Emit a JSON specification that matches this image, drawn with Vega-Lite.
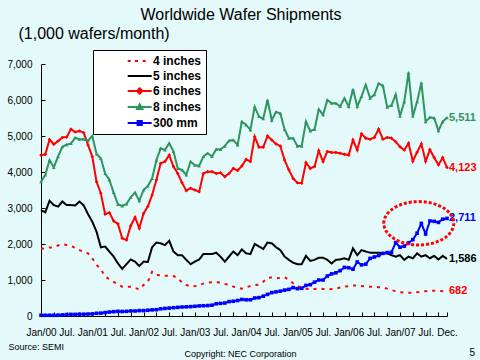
{
  "$schema": "https://vega.github.io/schema/vega-lite/v6.json",
  "width": 406,
  "height": 252,
  "autosize": {"type": "none"},
  "padding": {"left": 41, "top": 64, "right": 33, "bottom": 44},
  "background": "#e4f9f9",
  "config": {
    "view": {"stroke": null},
    "font": "Liberation Sans",
    "axis": {"domainColor": "black", "tickColor": "black", "labelColor": "black", "titleColor": "black", "grid": false, "domainWidth": 1, "tickWidth": 1}
  },
  "title": {"text": "Worldwide Wafer Shipments", "fontSize": 16, "fontWeight": "normal", "font": "Liberation Sans", "color": "black", "anchor": "middle", "frame": "group", "offset": 0, "dx": -3, "dy": -2},
  "data": {"values": [
    {"m":0,"4 inches":1870,"5 inches":2940,"6 inches":4470,"8 inches":3730,"300 mm":20},
    {"m":1,"4 inches":1880,"5 inches":2880,"6 inches":4490,"8 inches":3920,"300 mm":20},
    {"m":2,"4 inches":1900,"5 inches":3200,"6 inches":4900,"8 inches":4330,"300 mm":20},
    {"m":3,"4 inches":1910,"5 inches":3080,"6 inches":4770,"8 inches":4130,"300 mm":20},
    {"m":4,"4 inches":1960,"5 inches":3040,"6 inches":4860,"8 inches":4430,"300 mm":25},
    {"m":5,"4 inches":2000,"5 inches":3180,"6 inches":4960,"8 inches":4700,"300 mm":30},
    {"m":6,"4 inches":1970,"5 inches":3080,"6 inches":4970,"8 inches":4760,"300 mm":40},
    {"m":7,"4 inches":1950,"5 inches":3080,"6 inches":5190,"8 inches":4790,"300 mm":45},
    {"m":8,"4 inches":1890,"5 inches":3070,"6 inches":5110,"8 inches":4950,"300 mm":45},
    {"m":9,"4 inches":1830,"5 inches":3180,"6 inches":5140,"8 inches":4910,"300 mm":50},
    {"m":10,"4 inches":1780,"5 inches":3070,"6 inches":5090,"8 inches":4910,"300 mm":50},
    {"m":11,"4 inches":1740,"5 inches":2830,"6 inches":4750,"8 inches":4870,"300 mm":55},
    {"m":12,"4 inches":1600,"5 inches":2620,"6 inches":4430,"8 inches":5000,"300 mm":60},
    {"m":13,"4 inches":1420,"5 inches":2340,"6 inches":3730,"8 inches":4500,"300 mm":75},
    {"m":14,"4 inches":1300,"5 inches":1910,"6 inches":3410,"8 inches":4380,"300 mm":80},
    {"m":15,"4 inches":1100,"5 inches":1930,"6 inches":2830,"8 inches":3960,"300 mm":95},
    {"m":16,"4 inches":1020,"5 inches":1790,"6 inches":2870,"8 inches":3780,"300 mm":110},
    {"m":17,"4 inches":950,"5 inches":1650,"6 inches":2640,"8 inches":3430,"300 mm":120},
    {"m":18,"4 inches":880,"5 inches":1460,"6 inches":2560,"8 inches":3100,"300 mm":130},
    {"m":19,"4 inches":815,"5 inches":1310,"6 inches":2160,"8 inches":3060,"300 mm":125},
    {"m":20,"4 inches":810,"5 inches":1440,"6 inches":2110,"8 inches":3110,"300 mm":130},
    {"m":21,"4 inches":815,"5 inches":1570,"6 inches":2510,"8 inches":3300,"300 mm":140},
    {"m":22,"4 inches":780,"5 inches":1510,"6 inches":2740,"8 inches":3430,"300 mm":140},
    {"m":23,"4 inches":740,"5 inches":1390,"6 inches":2440,"8 inches":3200,"300 mm":150},
    {"m":24,"4 inches":860,"5 inches":1510,"6 inches":2850,"8 inches":3500,"300 mm":150},
    {"m":25,"4 inches":950,"5 inches":1500,"6 inches":3040,"8 inches":3610,"300 mm":160},
    {"m":26,"4 inches":1230,"5 inches":1910,"6 inches":3360,"8 inches":3820,"300 mm":170},
    {"m":27,"4 inches":1140,"5 inches":2040,"6 inches":3780,"8 inches":4330,"300 mm":175},
    {"m":28,"4 inches":1130,"5 inches":2020,"6 inches":4240,"8 inches":4660,"300 mm":200},
    {"m":29,"4 inches":1120,"5 inches":1970,"6 inches":4290,"8 inches":4610,"300 mm":210},
    {"m":30,"4 inches":1120,"5 inches":2090,"6 inches":4470,"8 inches":4800,"300 mm":220},
    {"m":31,"4 inches":1110,"5 inches":1790,"6 inches":4150,"8 inches":4570,"300 mm":230},
    {"m":32,"4 inches":1050,"5 inches":1690,"6 inches":3960,"8 inches":4100,"300 mm":240},
    {"m":33,"4 inches":930,"5 inches":1690,"6 inches":3700,"8 inches":4060,"300 mm":250},
    {"m":34,"4 inches":860,"5 inches":1560,"6 inches":3480,"8 inches":3920,"300 mm":255},
    {"m":35,"4 inches":815,"5 inches":1440,"6 inches":3550,"8 inches":4290,"300 mm":260},
    {"m":36,"4 inches":830,"5 inches":1510,"6 inches":3500,"8 inches":4190,"300 mm":270},
    {"m":37,"4 inches":860,"5 inches":1570,"6 inches":3450,"8 inches":4170,"300 mm":280},
    {"m":38,"4 inches":900,"5 inches":1720,"6 inches":3960,"8 inches":4430,"300 mm":285},
    {"m":39,"4 inches":930,"5 inches":1720,"6 inches":4010,"8 inches":4520,"300 mm":290},
    {"m":40,"4 inches":940,"5 inches":1720,"6 inches":4010,"8 inches":4430,"300 mm":300},
    {"m":41,"4 inches":950,"5 inches":1760,"6 inches":3960,"8 inches":4630,"300 mm":340},
    {"m":42,"4 inches":920,"5 inches":1650,"6 inches":3980,"8 inches":4630,"300 mm":350},
    {"m":43,"4 inches":890,"5 inches":1510,"6 inches":3870,"8 inches":4720,"300 mm":360},
    {"m":44,"4 inches":870,"5 inches":1650,"6 inches":3960,"8 inches":4870,"300 mm":400},
    {"m":45,"4 inches":815,"5 inches":1790,"6 inches":4100,"8 inches":4890,"300 mm":410},
    {"m":46,"4 inches":790,"5 inches":1690,"6 inches":4040,"8 inches":4750,"300 mm":430},
    {"m":47,"4 inches":760,"5 inches":1850,"6 inches":4170,"8 inches":5400,"300 mm":460},
    {"m":48,"4 inches":800,"5 inches":1740,"6 inches":4350,"8 inches":5310,"300 mm":450},
    {"m":49,"4 inches":830,"5 inches":1720,"6 inches":4290,"8 inches":5170,"300 mm":450},
    {"m":50,"4 inches":860,"5 inches":2000,"6 inches":4980,"8 inches":5810,"300 mm":500},
    {"m":51,"4 inches":870,"5 inches":1930,"6 inches":4690,"8 inches":5540,"300 mm":510},
    {"m":52,"4 inches":950,"5 inches":1860,"6 inches":4690,"8 inches":5480,"300 mm":550},
    {"m":53,"4 inches":1060,"5 inches":2040,"6 inches":5000,"8 inches":6000,"300 mm":600},
    {"m":54,"4 inches":1070,"5 inches":2020,"6 inches":4890,"8 inches":5440,"300 mm":650},
    {"m":55,"4 inches":1050,"5 inches":1910,"6 inches":4780,"8 inches":5670,"300 mm":670},
    {"m":56,"4 inches":1060,"5 inches":1830,"6 inches":4720,"8 inches":5630,"300 mm":690},
    {"m":57,"4 inches":1080,"5 inches":1650,"6 inches":4330,"8 inches":5180,"300 mm":720},
    {"m":58,"4 inches":1000,"5 inches":1560,"6 inches":4060,"8 inches":4940,"300 mm":740},
    {"m":59,"4 inches":910,"5 inches":1480,"6 inches":3820,"8 inches":4940,"300 mm":790},
    {"m":60,"4 inches":840,"5 inches":1440,"6 inches":3700,"8 inches":4720,"300 mm":760},
    {"m":61,"4 inches":780,"5 inches":1440,"6 inches":3690,"8 inches":4720,"300 mm":770},
    {"m":62,"4 inches":760,"5 inches":1670,"6 inches":4260,"8 inches":5400,"300 mm":850},
    {"m":63,"4 inches":740,"5 inches":1530,"6 inches":4100,"8 inches":5140,"300 mm":870},
    {"m":64,"4 inches":750,"5 inches":1560,"6 inches":4150,"8 inches":5180,"300 mm":940},
    {"m":65,"4 inches":760,"5 inches":1620,"6 inches":4590,"8 inches":5740,"300 mm":1000},
    {"m":66,"4 inches":750,"5 inches":1620,"6 inches":4290,"8 inches":5590,"300 mm":1000},
    {"m":67,"4 inches":740,"5 inches":1560,"6 inches":4570,"8 inches":6000,"300 mm":1110},
    {"m":68,"4 inches":750,"5 inches":1460,"6 inches":4540,"8 inches":5910,"300 mm":1170},
    {"m":69,"4 inches":760,"5 inches":1560,"6 inches":4540,"8 inches":5910,"300 mm":1200},
    {"m":70,"4 inches":790,"5 inches":1570,"6 inches":4520,"8 inches":5820,"300 mm":1260},
    {"m":71,"4 inches":815,"5 inches":1600,"6 inches":4490,"8 inches":6050,"300 mm":1350},
    {"m":72,"4 inches":830,"5 inches":1560,"6 inches":4470,"8 inches":5820,"300 mm":1340},
    {"m":73,"4 inches":850,"5 inches":1880,"6 inches":4890,"8 inches":6300,"300 mm":1300},
    {"m":74,"4 inches":850,"5 inches":1690,"6 inches":4610,"8 inches":5820,"300 mm":1500},
    {"m":75,"4 inches":830,"5 inches":1830,"6 inches":5060,"8 inches":6100,"300 mm":1420},
    {"m":76,"4 inches":820,"5 inches":1790,"6 inches":4940,"8 inches":6420,"300 mm":1440},
    {"m":77,"4 inches":815,"5 inches":1760,"6 inches":4910,"8 inches":6050,"300 mm":1600},
    {"m":78,"4 inches":810,"5 inches":1760,"6 inches":4960,"8 inches":6150,"300 mm":1640},
    {"m":79,"4 inches":800,"5 inches":1760,"6 inches":5190,"8 inches":6460,"300 mm":1680},
    {"m":80,"4 inches":795,"5 inches":1740,"6 inches":4910,"8 inches":6400,"300 mm":1740},
    {"m":81,"4 inches":760,"5 inches":1740,"6 inches":4960,"8 inches":5800,"300 mm":1760},
    {"m":82,"4 inches":720,"5 inches":1690,"6 inches":4940,"8 inches":5850,"300 mm":1770},
    {"m":83,"4 inches":690,"5 inches":1650,"6 inches":4840,"8 inches":6150,"300 mm":2040},
    {"m":84,"4 inches":660,"5 inches":1690,"6 inches":4700,"8 inches":5550,"300 mm":1910},
    {"m":85,"4 inches":650,"5 inches":1560,"6 inches":4610,"8 inches":5950,"300 mm":1940},
    {"m":86,"4 inches":648,"5 inches":1650,"6 inches":4800,"8 inches":6760,"300 mm":2030},
    {"m":87,"4 inches":650,"5 inches":1600,"6 inches":4300,"8 inches":5550,"300 mm":2120},
    {"m":88,"4 inches":660,"5 inches":1740,"6 inches":4550,"8 inches":5950,"300 mm":2300},
    {"m":89,"4 inches":676,"5 inches":1650,"6 inches":4780,"8 inches":6480,"300 mm":2570},
    {"m":90,"4 inches":690,"5 inches":1690,"6 inches":4300,"8 inches":5400,"300 mm":2280},
    {"m":91,"4 inches":700,"5 inches":1600,"6 inches":4620,"8 inches":5520,"300 mm":2640},
    {"m":92,"4 inches":700,"5 inches":1670,"6 inches":4400,"8 inches":5500,"300 mm":2630},
    {"m":93,"4 inches":695,"5 inches":1570,"6 inches":4200,"8 inches":5150,"300 mm":2600},
    {"m":94,"4 inches":690,"5 inches":1670,"6 inches":4400,"8 inches":5400,"300 mm":2690},
    {"m":95,"4 inches":682,"5 inches":1586,"6 inches":4123,"8 inches":5511,"300 mm":2711}
  ]},
  "layer": [
    {
      "transform": [{"fold": ["4 inches", "5 inches", "6 inches", "8 inches", "300 mm"], "as": ["series", "value"]}],
      "mark": {"type": "line", "strokeWidth": 2},
      "encoding": {
        "x": {"field": "m", "type": "quantitative", "scale": {"domain": [0, 95], "nice": false, "zero": false},
          "axis": {"orient": "bottom", "values": [0,3,6,9,12,15,18,21,24,27,30,33,36,39,42,45,48,51,54,57,60,63,66,69,72,75,78,81,84,87,90,93,95],
            "labelExpr": "datum.value == 95 ? 'Dec.' : datum.value % 12 == 0 ? 'Jan/0' + floor(datum.value / 12) : datum.value % 12 == 6 ? 'Jul.' : ''",
            "labelOverlap": false, "labelFlush": false, "tickSize": -4, "labelPadding": 15,
            "labelFont": "Liberation Sans", "labelFontSize": 10,
            "title": "Source: SEMI", "titleFont": "Liberation Sans", "titleFontSize": 9, "titleFontWeight": "normal",
            "titleX": -33, "titleY": 30, "titleAlign": "left", "titleBaseline": "middle", "titleAngle": 0}},
        "y": {"field": "value", "type": "quantitative", "scale": {"domain": [0, 7000], "nice": false},
          "axis": {"orient": "left", "values": [0,1000,2000,3000,4000,5000,6000,7000], "format": ",d", "tickSize": -4, "labelPadding": 13, "labelFlush": false,
            "labelFont": "Liberation Sans", "labelFontSize": 10,
            "title": "(1,000 wafers/month)", "titleFont": "Liberation Sans", "titleFontSize": 16, "titleFontWeight": "normal",
            "titleAngle": 0, "titleX": -23, "titleY": -31, "titleAlign": "left", "titleBaseline": "middle"}},
        "color": {"field": "series", "type": "nominal",
          "scale": {"domain": ["4 inches", "5 inches", "6 inches", "8 inches", "300 mm"], "range": ["#ff0000", "#000000", "#ff0000", "#2e9460", "#0000ff"]},
          "legend": {"orient": "none", "legendX": 52, "legendY": -14, "title": null,
            "fillColor": "white", "strokeColor": "black", "padding": 4,
            "symbolSize": 144, "symbolStrokeWidth": 2, "symbolOffset": 35.7, "labelOffset": 6.3,
            "labelFont": "Liberation Sans", "labelFontWeight": "bold", "labelFontSize": 12, "labelColor": "black",
            "rowPadding": 2,
            "encode": {
              "legend": {"update": {"width": {"value": 134}}},
              "symbols": {"update": {
              "shape": {"signal": "datum.value === '4 inches' ? 'M-2,0L-1.34,0M-0.78,0L-0.06,0M0.5,0L1.16,0' : datum.value === '5 inches' ? 'M-2,0L2,0' : datum.value === '6 inches' ? 'M-2,0L2,0M0,-0.45L0.45,0L0,0.45L-0.45,0Z' : datum.value === '8 inches' ? 'M-2,0L2,0M-0.45,0.35L0.45,0.35L0,-0.45Z' : 'M-2,0L2,0M-0.35,-0.35L0.35,-0.35L0.35,0.35L-0.35,0.35Z'"},
              "fill": {"scale": "color", "field": "value"},
              "stroke": {"scale": "color", "field": "value"},
              "strokeWidth": {"value": 2},
              "opacity": {"value": 1}
            }}}}},
        "strokeDash": {"field": "series", "type": "nominal",
          "scale": {"domain": ["4 inches", "5 inches", "6 inches", "8 inches", "300 mm"], "range": [[3, 5], [1, 0], [1, 0], [1, 0], [1, 0]]},
          "legend": null}
      }
    },
    {
      "transform": [
        {"fold": ["4 inches", "5 inches", "6 inches", "8 inches", "300 mm"], "as": ["series", "value"]},
        {"filter": {"field": "series", "oneOf": ["6 inches", "8 inches", "300 mm"]}}
      ],
      "mark": {"type": "point", "filled": true, "size": 13, "opacity": 1},
      "encoding": {
        "x": {"field": "m", "type": "quantitative",
          "axis": {"orient": "top", "domain": false, "ticks": false, "labels": false, "grid": false,
            "title": "Copyright: NEC Corporation", "titleFont": "Liberation Sans", "titleFontSize": 9, "titleFontWeight": "normal",
            "titleX": 199, "titleY": 289, "titleAlign": "center", "titleBaseline": "middle", "titleAngle": 0}},
        "y": {"field": "value", "type": "quantitative",
          "axis": {"orient": "right", "domain": false, "ticks": false, "labels": false, "grid": false,
            "title": "5", "titleFont": "Liberation Sans", "titleFontSize": 10, "titleFontWeight": "normal",
            "titleX": 22, "titleY": 288, "titleAlign": "left", "titleBaseline": "middle", "titleAngle": 0}},
        "color": {"field": "series", "type": "nominal", "legend": null},
        "shape": {"field": "series", "type": "nominal",
          "scale": {"domain": ["6 inches", "8 inches", "300 mm"], "range": ["diamond", "triangle-up", "square"]},
          "legend": null}
      }
    },
    {
      "data": {"values": [
        {"series": "8 inches", "m": 95, "value": 5511, "label": "5,511"},
        {"series": "6 inches", "m": 95, "value": 4123, "label": "4,123"},
        {"series": "300 mm", "m": 95, "value": 2711, "label": "2,711"},
        {"series": "5 inches", "m": 95, "value": 1586, "label": "1,586"},
        {"series": "4 inches", "m": 95, "value": 682, "label": "682"}
      ]},
      "mark": {"type": "text", "align": "left", "baseline": "middle", "dx": 2, "font": "Liberation Sans", "fontWeight": "bold", "fontSize": 11},
      "encoding": {
        "x": {"field": "m", "type": "quantitative", "axis": null},
        "y": {"field": "value", "type": "quantitative", "axis": null},
        "color": {"field": "series", "type": "nominal", "legend": null},
        "text": {"field": "label"}
      }
    },
    {
      "data": {"values": [{"m": 88.4, "value": 2575}]},
      "mark": {"type": "point", "filled": false, "size": 4900, "opacity": 1, "stroke": "#ff0000", "strokeWidth": 3, "strokeDash": [3, 2],
        "shape": "M-1,0C-1,-0.342,-0.552,-0.62,0,-0.62C0.552,-0.62,1,-0.342,1,0C1,0.342,0.552,0.62,0,0.62C-0.552,0.62,-1,0.342,-1,0Z"},
      "encoding": {
        "x": {"field": "m", "type": "quantitative", "axis": null},
        "y": {"field": "value", "type": "quantitative", "axis": null}
      }
    }
  ],
  "resolve": {"axis": {"x": "independent", "y": "independent"}}
}
